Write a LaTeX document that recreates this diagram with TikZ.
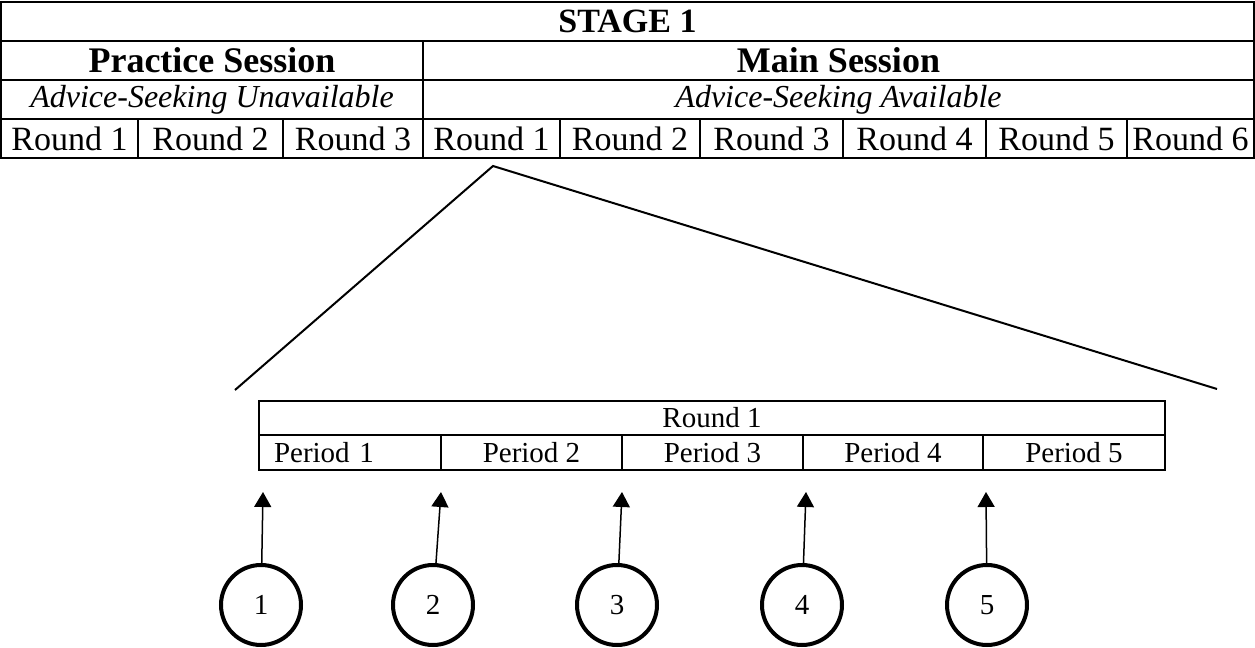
\documentclass[tikz,border=0pt]{standalone}
\usepackage{fontspec}
\setmainfont{Liberation Serif}
\usetikzlibrary{shapes,arrows,arrows.meta}

\tikzset{
  cell/.style={draw, line width=1pt, inner sep=0pt, minimum height=19.5pt, font=\fontsize{17}{20}\selectfont},
  pcell/.style={draw, line width=1pt, inner sep=0pt, minimum height=17.5pt, font=\fontsize{14.5}{16}\selectfont},
  numcirc/.style={circle, draw, line width=2pt, minimum size=40pt, inner sep=0pt, font=\fontsize{14.5}{16}\selectfont},
  evt/.style={-{Triangle[width=8.5pt,length=7.5pt]}, line width=0.75pt},
  zoomline/.style={line width=1pt}
}

\begin{document}
\begin{tikzpicture}[x=0.5pt, y=-0.5pt]
  \useasboundingbox (0,0) rectangle (1255,648);

  \node[cell, minimum width=626.5pt, font=\bfseries\fontsize{17}{20}\selectfont] (stage) at (627.5,21.5) {STAGE 1};
  \node[cell, minimum width=211pt, font=\bfseries\fontsize{18}{20}\selectfont] (practice) at (212,60.5) {Practice Session};
  \node[cell, minimum width=415.5pt, font=\bfseries\fontsize{18}{20}\selectfont] (main) at (838.5,60.5) {Main Session};
  \node[cell, minimum width=211pt, font=\itshape\fontsize{16}{18}\selectfont] (noadvice) at (212,99.5) {Advice-Seeking Unavailable};
  \node[cell, minimum width=415.5pt, font=\itshape\fontsize{16}{18}\selectfont] (advice) at (838.5,99.5) {Advice-Seeking Available};

  \foreach \x /\w/\alph/\name in {69.5/137/pa/Round 1, 210.5/145/pb/Round 2, 353/140/pc/Round 3, 491.5/137/ma/Round 1, 630/140/mb/Round 2, 771.5/143/mc/Round 3, 914.5/143/md/Round 4, 1056.5/141/me/Round 5, 1190.5/127/mf/Round 6}{
    \node[cell, minimum width=\w*0.5pt] (\alph) at (\x,138.5) {\name}; }

  % zoom into round 1
  \coordinate (apex) at (493,166);
  \coordinate (zl) at (235,390);
  \coordinate (zr) at (1217,389);
  \draw[zoomline] (zl) -- (apex) -- (zr);

  \node[pcell, minimum width=453pt, minimum height=17pt] (round) at (712,418) {Round 1};
  \node[pcell, minimum width=91pt, text width=76pt, align=left, inner xsep=7.5pt] (per1) at (350,452.5) {Period 1};
  \foreach \x /\w/\alph/\name in {531.5/181/per2/Period 2, 712.5/181/per3/Period 3, 893/180/per4/Period 4, 1074/182/per5/Period 5}{
    \node[pcell, minimum width=\w*0.5pt] (\alph) at (\x,452.5) {\name}; }

  \foreach \i/\cx/\tx in {1/261/263, 2/433/441, 3/617/622, 4/802/806, 5/987/986}{
    \node[numcirc] (c\i) at (\cx,605) {\i};
    \coordinate (t\i) at (\tx,492);
    \draw[evt] (c\i) -- (t\i);
  }
\end{tikzpicture}
\end{document}
